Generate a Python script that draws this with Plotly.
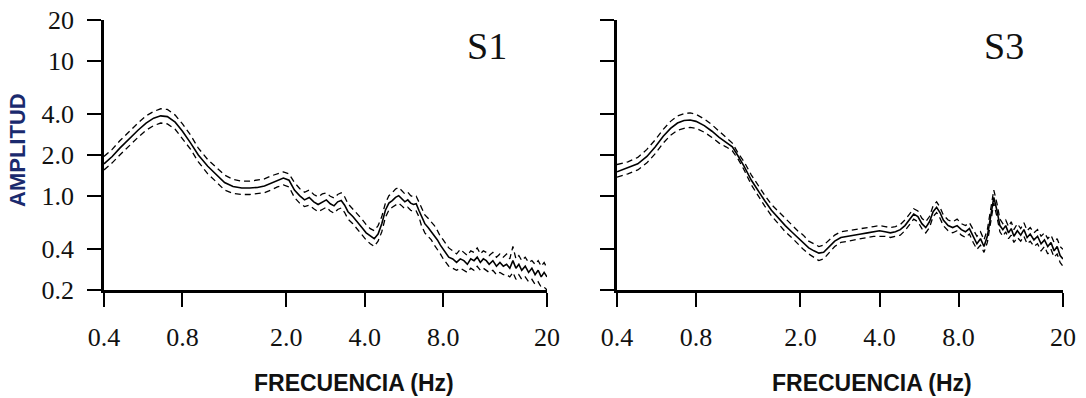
import plotly.graph_objects as go

# ---------------- data ----------------
s1_freq = [0.40, 0.43, 0.46, 0.50, 0.54, 0.58, 0.62, 0.66, 0.70, 0.75, 0.80, 0.86, 0.92, 1.00, 1.08,
           1.16, 1.25, 1.35, 1.45, 1.55, 1.65, 1.75, 1.85, 1.95, 2.05, 2.15, 2.25, 2.35, 2.45, 2.55,
           2.65, 2.75, 2.85, 2.95, 3.05, 3.15, 3.25, 3.35, 3.45, 3.60, 3.75, 3.90, 4.05, 4.20, 4.35,
           4.50, 4.65, 4.80, 4.95, 5.10, 5.25, 5.40, 5.55, 5.70, 5.85, 6.00, 6.15, 6.30, 6.45, 6.60,
           6.80, 7.00, 7.20, 7.40, 7.60, 7.80, 8.00, 8.20, 8.40, 8.70, 9.00, 9.30, 9.60, 9.90, 10.2,
           10.5, 10.8, 11.1, 11.4, 11.7, 12.0, 12.4, 12.8, 13.2, 13.6, 14.0, 14.4, 14.8, 15.2, 15.6,
           16.0, 16.5, 17.0, 17.5, 18.0, 18.5, 19.0, 19.5, 20.0]
s1_mean = [1.72, 1.95, 2.25, 2.65, 3.05, 3.45, 3.75, 3.90, 3.85, 3.50, 3.00, 2.45, 2.00, 1.65, 1.42,
           1.25, 1.17, 1.14, 1.14, 1.15, 1.18, 1.24, 1.30, 1.35, 1.30, 1.10, 1.00, 0.93, 0.97, 0.90,
           0.86, 0.90, 0.93, 0.87, 0.84, 0.90, 0.92, 0.85, 0.76, 0.70, 0.64, 0.58, 0.53, 0.50, 0.48,
           0.52, 0.62, 0.78, 0.88, 0.92, 0.97, 1.00, 0.95, 0.90, 0.93, 0.88, 0.86, 0.87, 0.78, 0.70,
           0.62, 0.58, 0.54, 0.50, 0.47, 0.43, 0.40, 0.37, 0.35, 0.34, 0.32, 0.34, 0.33, 0.31, 0.34,
           0.33, 0.35, 0.32, 0.34, 0.33, 0.31, 0.33, 0.30, 0.32, 0.30, 0.31, 0.29, 0.33, 0.29, 0.31,
           0.28, 0.30, 0.27, 0.29, 0.26, 0.28, 0.25, 0.27, 0.25]
s1_upper = [1.95, 2.20, 2.55, 3.00, 3.45, 3.90, 4.20, 4.40, 4.35, 3.95, 3.40, 2.80, 2.25, 1.85, 1.60,
            1.42, 1.32, 1.28, 1.28, 1.30, 1.33, 1.40, 1.45, 1.50, 1.45, 1.25, 1.13, 1.06, 1.10, 1.02,
            0.98, 1.03, 1.05, 0.99, 0.96, 1.02, 1.05, 0.98, 0.87, 0.80, 0.73, 0.67, 0.61, 0.57, 0.55,
            0.60, 0.70, 0.88, 1.00, 1.05, 1.12, 1.15, 1.08, 1.03, 1.06, 1.00, 0.98, 0.99, 0.90, 0.82,
            0.72, 0.68, 0.64, 0.60, 0.55, 0.50, 0.47, 0.44, 0.41, 0.39, 0.37, 0.40, 0.38, 0.36, 0.39,
            0.38, 0.41, 0.37, 0.39, 0.38, 0.36, 0.38, 0.35, 0.37, 0.35, 0.37, 0.34, 0.42, 0.34, 0.36,
            0.33, 0.35, 0.32, 0.33, 0.31, 0.33, 0.30, 0.32, 0.29]
s1_lower = [1.55, 1.75, 2.00, 2.35, 2.70, 3.05, 3.30, 3.45, 3.40, 3.10, 2.65, 2.20, 1.78, 1.45, 1.26,
            1.10, 1.04, 1.02, 1.02, 1.03, 1.05, 1.10, 1.16, 1.20, 1.16, 0.97, 0.88, 0.83, 0.85, 0.80,
            0.76, 0.79, 0.82, 0.77, 0.74, 0.79, 0.81, 0.75, 0.67, 0.62, 0.56, 0.51, 0.47, 0.44, 0.42,
            0.46, 0.54, 0.69, 0.78, 0.82, 0.85, 0.88, 0.84, 0.80, 0.82, 0.78, 0.76, 0.77, 0.70, 0.60,
            0.53, 0.50, 0.47, 0.43, 0.40, 0.37, 0.34, 0.32, 0.30, 0.29, 0.28, 0.29, 0.28, 0.27, 0.29,
            0.28, 0.30, 0.28, 0.29, 0.28, 0.27, 0.28, 0.26, 0.27, 0.26, 0.26, 0.25, 0.27, 0.24, 0.26,
            0.24, 0.25, 0.23, 0.24, 0.22, 0.23, 0.21, 0.21, 0.20]

s3_freq = [0.40, 0.44, 0.48, 0.52, 0.56, 0.60, 0.64, 0.68, 0.72, 0.76, 0.80, 0.86, 0.92, 0.98, 1.04,
           1.10, 1.16, 1.22, 1.30, 1.38, 1.46, 1.55, 1.65, 1.75, 1.85, 1.95, 2.05, 2.15, 2.25, 2.35,
           2.45, 2.55, 2.70, 2.85, 3.00, 3.20, 3.40, 3.60, 3.80, 4.00, 4.20, 4.40, 4.60, 4.80, 5.00,
           5.20, 5.40, 5.60, 5.80, 6.00, 6.20, 6.40, 6.60, 6.80, 7.00, 7.30, 7.60, 7.90, 8.20, 8.50,
           8.80, 9.10, 9.40, 9.70, 10.0, 10.3, 10.6, 10.9, 11.2, 11.5, 11.8, 12.1, 12.4, 12.7, 13.0,
           13.4, 13.8, 14.2, 14.6, 15.0, 15.5, 16.0, 16.5, 17.0, 17.5, 18.0, 18.5, 19.0, 19.5, 20.0]
s3_mean = [1.50, 1.60, 1.72, 1.95, 2.30, 2.75, 3.15, 3.45, 3.60, 3.63, 3.55, 3.30, 3.00, 2.70, 2.50,
           2.30, 1.95, 1.65, 1.30, 1.08, 0.92, 0.78, 0.68, 0.60, 0.54, 0.49, 0.45, 0.41, 0.39, 0.375,
           0.38, 0.41, 0.46, 0.49, 0.50, 0.51, 0.52, 0.53, 0.54, 0.55, 0.54, 0.53, 0.54, 0.56, 0.60,
           0.67, 0.73, 0.70, 0.62, 0.58, 0.64, 0.76, 0.82, 0.75, 0.66, 0.60, 0.58, 0.60, 0.56, 0.54,
           0.57, 0.50, 0.44, 0.48, 0.42, 0.50, 0.72, 0.97, 0.78, 0.60, 0.56, 0.60, 0.53, 0.57, 0.50,
           0.55, 0.51, 0.56, 0.49, 0.52, 0.47, 0.50, 0.44, 0.47, 0.42, 0.45, 0.39, 0.42, 0.36, 0.34]
s3_upper = [1.70, 1.78, 1.92, 2.20, 2.60, 3.10, 3.55, 3.90, 4.05, 4.10, 4.00, 3.70, 3.35, 3.00, 2.72,
            2.45, 2.05, 1.78, 1.42, 1.18, 1.01, 0.86, 0.76, 0.67, 0.60, 0.55, 0.51, 0.46, 0.44, 0.42,
            0.43, 0.46, 0.51, 0.54, 0.55, 0.56, 0.57, 0.58, 0.59, 0.60, 0.59, 0.58, 0.59, 0.61, 0.66,
            0.73, 0.80, 0.77, 0.68, 0.64, 0.70, 0.84, 0.90, 0.82, 0.72, 0.66, 0.64, 0.67, 0.62, 0.60,
            0.63, 0.56, 0.50, 0.54, 0.47, 0.56, 0.80, 1.10, 0.88, 0.67, 0.62, 0.66, 0.59, 0.64, 0.56,
            0.62, 0.57, 0.63, 0.55, 0.58, 0.53, 0.56, 0.50, 0.53, 0.48, 0.51, 0.45, 0.48, 0.42, 0.40]
s3_lower = [1.37, 1.45, 1.55, 1.75, 2.05, 2.45, 2.80, 3.05, 3.15, 3.20, 3.15, 2.95, 2.70, 2.45, 2.30,
            2.15, 1.85, 1.55, 1.20, 0.99, 0.84, 0.71, 0.62, 0.54, 0.49, 0.44, 0.40, 0.37, 0.35, 0.33,
            0.34, 0.37, 0.42, 0.45, 0.46, 0.47, 0.48, 0.49, 0.50, 0.50, 0.50, 0.49, 0.50, 0.51, 0.55,
            0.61, 0.67, 0.64, 0.57, 0.53, 0.58, 0.70, 0.75, 0.68, 0.60, 0.55, 0.53, 0.55, 0.51, 0.49,
            0.52, 0.45, 0.40, 0.43, 0.38, 0.45, 0.65, 0.88, 0.70, 0.54, 0.50, 0.54, 0.48, 0.51, 0.45,
            0.49, 0.46, 0.50, 0.44, 0.46, 0.42, 0.44, 0.39, 0.42, 0.37, 0.40, 0.35, 0.37, 0.32, 0.30]

y_ticks = [0.2, 0.4, 1.0, 2.0, 4.0, 10, 20]
y_tick_text = ["0.2", "0.4", "1.0", "2.0", "4.0", "10", "20"]
x_ticks = [0.4, 0.8, 2.0, 4.0, 8.0, 20]
x_tick_text = ["0.4", "0.8", "2.0", "4.0", "8.0", "20"]
panel_labels = ["S1", "S3"]
x_title = "FRECUENCIA (Hz)"
y_title = "AMPLITUD"

# ---------------- figure ----------------
W, H = 1086, 398
fig = go.Figure()

solid = dict(color="black", width=1.6)
dashed = dict(color="black", width=1.3, dash="6px,4px")

for xa, ya, f, m, u, l in [("x", "y", s1_freq, s1_mean, s1_upper, s1_lower),
                           ("x2", "y2", s3_freq, s3_mean, s3_upper, s3_lower)]:
    fig.add_trace(go.Scatter(x=f, y=u, mode="lines", line=dashed, xaxis=xa, yaxis=ya, showlegend=False))
    fig.add_trace(go.Scatter(x=f, y=l, mode="lines", line=dashed, xaxis=xa, yaxis=ya, showlegend=False))
    fig.add_trace(go.Scatter(x=f, y=m, mode="lines", line=solid, xaxis=xa, yaxis=ya, showlegend=False))

tick_font = dict(family="Liberation Serif, Times New Roman, serif", size=26, color="#111")

xdom1 = [104 / W, 547 / W]
xdom2 = [617 / W, 1063 / W]
ydom = [(H - 290) / H, (H - 20) / H]

common_x = dict(type="log", range=[-0.39794, 1.30103], tickmode="array", tickvals=x_ticks,
                ticktext=x_tick_text, ticks="outside", ticklen=14, tickwidth=2, tickcolor="black",
                showline=True, linecolor="black", linewidth=2.5, showgrid=False, zeroline=False,
                tickfont=tick_font, ticklabelstandoff=8, automargin=False)
common_y = dict(type="log", range=[-0.69897, 1.30103], tickmode="array", tickvals=y_ticks,
                ticktext=y_tick_text, ticks="outside", ticklen=14, tickwidth=2, tickcolor="black",
                showline=True, linecolor="black", linewidth=2.5, showgrid=False, zeroline=False,
                tickfont=tick_font, ticklabelstandoff=8, automargin=False)


def label(text, x, y, font, angle=0):
    return dict(text=text, x=x / W, y=(H - y) / H, xref="paper", yref="paper",
                xanchor="center", yanchor="middle", textangle=angle, showarrow=False, font=font)


serif_big = dict(family="Liberation Serif, serif", size=38, color="#111")
sans_bold = dict(family="Liberation Sans, Arial, sans-serif", size=23, color="#111")
sans_bold_y = dict(family="Liberation Sans, Arial, sans-serif", size=22, color="#1a2a6e")

fig.update_layout(
    width=W, height=H,
    margin=dict(l=0, r=0, t=0, b=0, autoexpand=False),
    paper_bgcolor="white", plot_bgcolor="white",
    xaxis=dict(domain=xdom1, anchor="y", **common_x),
    yaxis=dict(domain=ydom, anchor="x", **common_y),
    xaxis2=dict(domain=xdom2, anchor="y2", **common_x),
    yaxis2=dict(domain=ydom, anchor="x2", showticklabels=False,
                **{k: v for k, v in common_y.items() if k not in ("tickfont", "ticklabelstandoff")}),
    annotations=[
        label(panel_labels[0], 487, 46, serif_big),
        label(panel_labels[1], 1004, 46, serif_big),
        label("<b>" + x_title + "</b>", 354, 383, sans_bold),
        label("<b>" + x_title + "</b>", 872, 383, sans_bold),
        label("<b>" + y_title + "</b>", 17, 150, sans_bold_y, angle=-90),
    ],
)

fig.write_html("out.html")
